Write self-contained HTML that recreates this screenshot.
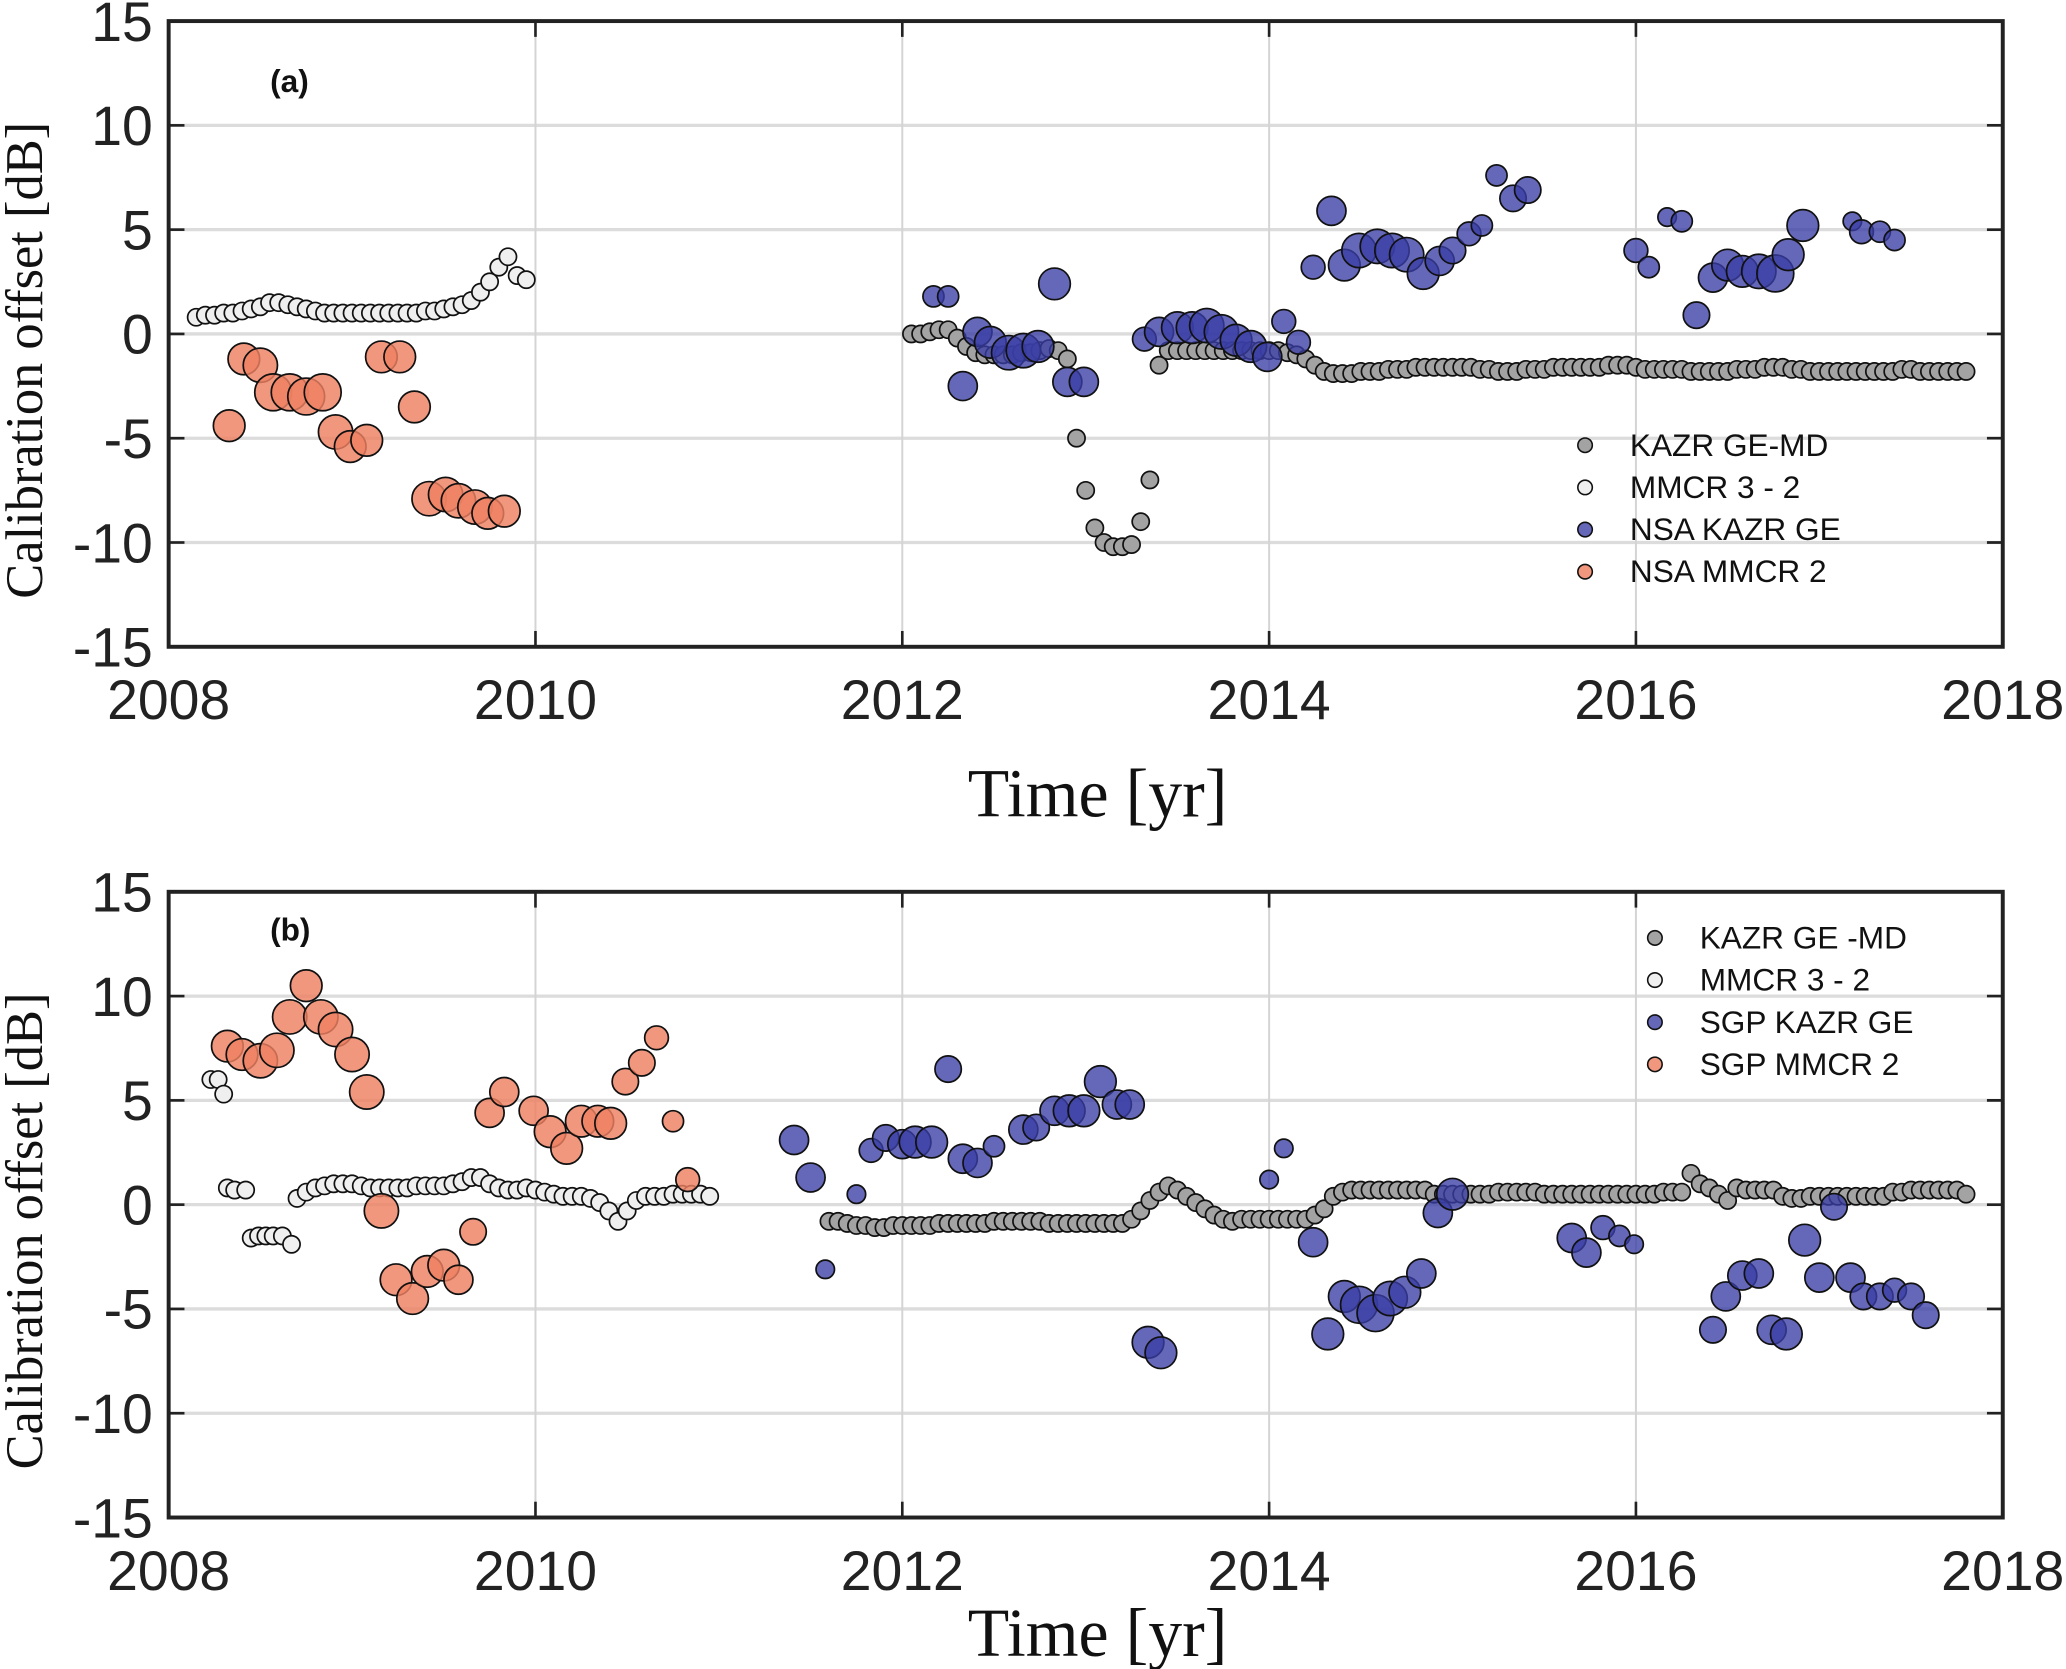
<!DOCTYPE html>
<html><head><meta charset="utf-8"><style>
html,body{margin:0;padding:0;background:#fff;}
svg{display:block;}
</style></head><body>
<svg id="fig" xmlns="http://www.w3.org/2000/svg" width="2066" height="1669" viewBox="0 0 1568 1267" preserveAspectRatio="none"></svg>
<script>
// ---------- Panel (a) data ----------
const aWhiteStart = 2008.15, aWhiteStep = 0.05;
const aWhiteVals = [0.8,0.9,0.9,1.0,1.0,1.1,1.2,1.3,1.5,1.5,1.4,1.3,1.2,1.1,1.0,1.0,1.0,1.0,1.0,1.0,1.0,1.0,1.0,1.0,1.0,1.1,1.1,1.2,1.3,1.4,1.6,2.0,2.5,3.2,3.7,2.8,2.6];
const aGrayStart = 2012.05, aGrayStep = 0.05;
const aGrayVals = [0,0,0.1,0.2,0.2,-0.2,-0.6,-0.9,-1.0,-1.0,-1.0,-1.0,-0.9,-0.9,-0.8,-0.7,-0.8,-1.2,-5.0,-7.5,-9.3,-10.0,-10.2,-10.2,-10.1,-9.0,-7.0,-1.5,
-0.8,-0.8,-0.8,-0.8,-0.8,-0.8,-0.8,-0.8,-0.8,-0.8,-0.8,-0.8,-0.8,-0.9,-1.0,-1.2,-1.5,-1.8,-1.9,-1.9,-1.9,-1.8,-1.8,-1.8,-1.7,-1.7,-1.7,-1.6,-1.6,-1.6,-1.6,-1.6,-1.6,-1.6,-1.7,-1.7,-1.8,-1.8,-1.8,-1.7,-1.7,-1.7,-1.6,-1.6,-1.6,-1.6,-1.6,-1.6,-1.5,-1.5,-1.5,-1.6,-1.7,-1.7,-1.7,-1.7,-1.7,-1.8,-1.8,-1.8,-1.8,-1.8,-1.7,-1.7,-1.7,-1.6,-1.6,-1.6,-1.7,-1.7,-1.8,-1.8,-1.8,-1.8,-1.8,-1.8,-1.8,-1.8,-1.8,-1.8,-1.7,-1.7,-1.8,-1.8,-1.8,-1.8,-1.8,-1.8];
const aSalYears = [2008.33,2008.41,2008.5,2008.57,2008.66,2008.75,2008.84,2008.91,2008.99,2009.08,2009.16,2009.26,2009.34,2009.42,2009.51,2009.58,2009.67,2009.74,2009.83];
const aSalVals  = [-4.4,-1.2,-1.5,-2.8,-2.8,-3.0,-2.8,-4.7,-5.4,-5.1,-1.1,-1.1,-3.5,-7.9,-7.7,-8.0,-8.3,-8.6,-8.5];
const aSalSize  = [12,12,13,14,14,14,14,13,12,12,12,12,12,13,13,13,13,12,12];
const aBlueYears = [2012.17,2012.25,2012.33,2012.41,2012.48,2012.58,2012.66,2012.74,2012.83,2012.9,2012.99,2013.32,2013.4,2013.5,2013.58,2013.66,2013.74,2013.82,2013.9,2013.99,2014.08,2014.16,2014.24,2014.34,2014.41,2014.49,2014.59,2014.67,2014.75,2014.84,2014.93,2015.0,2015.09,2015.16,2015.24,2015.33,2015.41,2016.0,2016.07,2016.17,2016.25,2016.33,2016.42,2016.5,2016.58,2016.67,2016.76,2016.83,2016.91,2017.18,2017.23,2017.33,2017.41];
const aBlueVals  = [1.8,1.8,-2.5,0.1,-0.4,-0.9,-0.8,-0.6,2.4,-2.3,-2.3,-0.25,0.1,0.3,0.3,0.4,0.1,-0.3,-0.6,-1.1,0.6,-0.4,3.2,5.9,3.3,4.0,4.2,4.0,3.8,2.9,3.5,4.0,4.8,5.2,7.6,6.5,6.9,4.0,3.2,5.6,5.4,0.9,2.7,3.3,3.0,3.0,2.9,3.8,5.2,5.4,4.9,4.9,4.5];
const aBlueSize  = [8,8,11,11,12,13,13,12,12,11,11,9,11,12,12,13,13,12,12,11,9,9,9,11,12,13,13,13,13,12,11,10,9,8,8,10,10,9,8,7,8,10,11,12,12,13,14,12,12,7,9,8,8];

// ---------- Panel (b) data ----------
const bWhiteYears = [2008.23,2008.27,2008.3,2008.32,2008.36,2008.42,2008.45,2008.49,2008.53,2008.57,2008.62,2008.67];
const bWhiteVals  = [6.0,6.0,5.3,0.8,0.7,0.7,-1.6,-1.5,-1.5,-1.5,-1.5,-1.9];
const bWhiteStart = 2008.7, bWhiteStep = 0.05;
const bWhiteSeg = [0.3,0.6,0.8,0.9,1.0,1.0,1.0,0.9,0.8,0.8,0.8,0.8,0.8,0.9,0.9,0.9,0.9,1.0,1.1,1.3,1.3,1.0,0.8,0.7,0.7,0.8,0.7,0.6,0.5,0.4,0.4,0.4,0.3,0.1,-0.3,-0.8,-0.3,0.2,0.4,0.4,0.4,0.5,0.5,0.5,0.5,0.4];
const bGrayStart = 2011.6, bGrayStep = 0.05;
const bGrayVals = [-0.8,-0.8,-0.9,-1.0,-1.0,-1.1,-1.1,-1.0,-1.0,-1.0,-1.0,-1.0,-0.9,-0.9,-0.9,-0.9,-0.9,-0.9,-0.8,-0.8,-0.8,-0.8,-0.8,-0.8,-0.9,-0.9,-0.9,-0.9,-0.9,-0.9,-0.9,-0.9,-0.9,-0.7,-0.3,0.2,0.6,0.9,0.7,0.4,0.1,-0.2,-0.5,-0.7,-0.8,-0.7,-0.7,-0.7,-0.7,-0.7,-0.7,-0.7,-0.7,-0.5,-0.2,0.4,0.6,0.7,0.7,0.7,0.7,0.7,0.7,0.7,0.7,0.7,0.5,0.5,0.5,0.5,0.5,0.5,0.5,0.6,0.6,0.6,0.6,0.6,0.5,0.5,0.5,0.5,0.5,0.5,0.5,0.5,0.5,0.5,0.5,0.5,0.5,0.6,0.6,0.6,1.5,1.0,0.8,0.5,0.2,0.8,0.7,0.7,0.7,0.7,0.4,0.3,0.3,0.4,0.4,0.4,0.4,0.4,0.4,0.4,0.4,0.4,0.6,0.6,0.7,0.7,0.7,0.7,0.7,0.7,0.5];
const bSalYears = [2008.32,2008.4,2008.5,2008.59,2008.66,2008.75,2008.83,2008.91,2009.0,2009.08,2009.16,2009.24,2009.33,2009.41,2009.5,2009.58,2009.66,2009.75,2009.83,2009.99,2010.08,2010.17,2010.25,2010.34,2010.41,2010.49,2010.58,2010.66,2010.75,2010.83];
const bSalVals  = [7.6,7.2,6.9,7.4,9.0,10.5,9.0,8.4,7.2,5.4,-0.3,-3.6,-4.5,-3.2,-2.9,-3.6,-1.3,4.4,5.4,4.5,3.5,2.7,4.0,4.0,3.9,5.9,6.8,8.0,4.0,1.2];
const bSalSize  = [12,12,13,13,13,12,13,13,13,13,13,12,12,12,12,11,10,11,11,11,12,12,12,12,12,10,10,9,8,9];
const bBlueYears = [2011.41,2011.5,2011.58,2011.75,2011.83,2011.91,2012.0,2012.07,2012.16,2012.25,2012.33,2012.41,2012.5,2012.66,2012.73,2012.83,2012.91,2012.99,2013.08,2013.17,2013.24,2013.34,2013.41,2014.0,2014.08,2014.24,2014.32,2014.41,2014.49,2014.58,2014.66,2014.74,2014.83,2014.92,2015.0,2015.65,2015.73,2015.82,2015.91,2015.99,2016.42,2016.49,2016.58,2016.67,2016.74,2016.82,2016.92,2017.0,2017.08,2017.17,2017.24,2017.33,2017.41,2017.5,2017.58];
const bBlueVals  = [3.1,1.3,-3.1,0.5,2.6,3.2,2.9,3.0,3.0,6.5,2.2,2.0,2.8,3.6,3.7,4.5,4.5,4.5,5.9,4.8,4.8,-6.6,-7.1,1.2,2.7,-1.8,-6.2,-4.4,-4.8,-5.2,-4.5,-4.2,-3.3,-0.4,0.5,-1.6,-2.3,-1.1,-1.5,-1.9,-6.0,-4.4,-3.4,-3.3,-6.0,-6.2,-1.7,-3.5,-0.1,-3.5,-4.4,-4.4,-4.1,-4.4,-5.3];
const bBlueSize  = [11,11,7,7,9,10,11,12,12,10,11,11,8,11,10,11,12,12,12,11,11,12,12,7,7,11,12,12,14,14,13,12,11,11,12,11,11,9,8,7,10,11,11,11,11,12,12,11,10,11,10,10,9,10,10];

const xTicks = [2008,2010,2012,2014,2016,2018];
const yTicks = [15,10,5,0,-5,-10,-15];

// ---------- drawing ----------
const NS = 'http://www.w3.org/2000/svg';
const svg = document.getElementById('fig');
const X0 = 128, X1 = 1520;
function mk(tag, attrs, parent){ const e = document.createElementNS(NS, tag); for (const k in attrs) e.setAttribute(k, attrs[k]); (parent||svg).appendChild(e); return e; }
const COL = {gray:'#a3a3a3', white:'#efefef', blue:'rgba(58,62,165,0.78)', sal:'rgba(238,128,98,0.82)'};

function panel(top, bottom, tag){
  const g = mk('g', {});
  
  
  const xs = yr => X0 + (yr - 2008) / 10 * (X1 - X0);
  const ys = v => top + (15 - v) / 30 * (bottom - top);
  for (const t of yTicks) { if (t===15||t===-15) continue;
    const l = mk('line', {x1:X0, x2:X1, y1:ys(t), y2:ys(t), stroke:'#dcdcdc', 'stroke-width':2.5}, g);
      }
  for (const t of xTicks) { if (t===2008||t===2018) continue;
    const l = mk('line', {x1:xs(t), x2:xs(t), y1:top, y2:bottom, stroke:'#d4d4d4', 'stroke-width':1.5}, g);
      }
  for (const t of xTicks) {
    mk('line', {x1:xs(t), x2:xs(t), y1:bottom, y2:bottom-12, stroke:'#222', 'stroke-width':2}, g);
    mk('line', {x1:xs(t), x2:xs(t), y1:top, y2:top+12, stroke:'#222', 'stroke-width':2}, g);
    const tx = mk('text', {x:xs(t), y:bottom+55, 'text-anchor':'middle', 'font-family':'Liberation Sans, sans-serif', 'font-size':42, fill:'#222'}, g);
    tx.textContent = t;
     
  }
  for (const t of yTicks) {
    mk('line', {x1:X0, x2:X0+12, y1:ys(t), y2:ys(t), stroke:'#222', 'stroke-width':2}, g);
    mk('line', {x1:X1, x2:X1-12, y1:ys(t), y2:ys(t), stroke:'#222', 'stroke-width':2}, g);
    const tx = mk('text', {x:116, y:ys(t)+15, 'text-anchor':'end', 'font-family':'Liberation Sans, sans-serif', 'font-size':42, fill:'#222'}, g);
    tx.textContent = t;
     
  }
  return {g, xs, ys};
}

function dots(p, years, vals, sizes, fill, name){
  for (let i = 0; i < vals.length; i++) {
    const c = mk('circle', {cx:p.xs(years[i]), cy:p.ys(vals[i]), r:sizes ? sizes[i] : 6.5, fill:fill, stroke:'#111', 'stroke-width':1.3}, p.g);
    
    
  }
}
function dense(p, start, step, vals, fill, name){
  const yrs = vals.map((_, i) => start + i * step);
  dots(p, yrs, vals, null, fill, name);
}
function frame(p, top, bottom){
  const r = mk('rect', {x:X0, y:top, width:X1-X0, height:bottom-top, fill:'none', stroke:'#222', 'stroke-width':3}, p.g);
   
}
function legend(p, lx, ly, names, fills){
  const lg = mk('g', {}, p.g);
   
  names.forEach((n, i) => {
    const c = mk('circle', {cx:lx, cy:ly + i*32, r:5.5, fill:fills[i], stroke:'#111', 'stroke-width':1.2}, lg);
     
    const t = mk('text', {x:lx+34, y:ly + i*32 + 8, 'font-family':'Liberation Sans, sans-serif', 'font-size':24, fill:'#111'}, lg);
    t.textContent = n;
     
  });
}
function titles(p, top, bottom, tag, labelY, xTitleY){
  const lab = mk('text', {x:205, y:labelY, 'font-family':'Liberation Sans, sans-serif', 'font-size':24, 'font-weight':'bold', fill:'#111'}, p.g);
  lab.textContent = '(' + tag + ')';
   
  const cy = (top + bottom) / 2 + 20;
  const yt = mk('text', {x:0, y:0, transform:'translate(32,' + cy + ') rotate(-90)', 'text-anchor':'middle', 'font-family':'Liberation Serif, serif', 'font-size':40, fill:'#111', textLength:362, lengthAdjust:'spacingAndGlyphs'}, p.g);
  yt.textContent = 'Calibration offset [dB]';
   
  const xt = mk('text', {x:833, y:xTitleY, 'text-anchor':'middle', 'font-family':'Liberation Serif, serif', 'font-size':52, fill:'#111', textLength:197, lengthAdjust:'spacingAndGlyphs'}, p.g);
  xt.textContent = 'Time [yr]';
   
}

// Panel a
const pa = panel(16, 491, 'a');
dense(pa, aWhiteStart, aWhiteStep, aWhiteVals, COL.white, 'mmcr-3-2-point');
dense(pa, aGrayStart, aGrayStep, aGrayVals, COL.gray, 'kazr-ge-md-point');
dots(pa, aSalYears, aSalVals, aSalSize, COL.sal, 'nsa-mmcr-2-point');
dots(pa, aBlueYears, aBlueVals, aBlueSize, COL.blue, 'nsa-kazr-ge-point');
frame(pa, 16, 491);
legend(pa, 1203, 338, ['KAZR GE-MD','MMCR 3 - 2','NSA KAZR GE','NSA MMCR 2'], [COL.gray, COL.white, COL.blue, COL.sal]);
titles(pa, 16, 491, 'a', 70, 620);

// Panel b
const pb = panel(677, 1152, 'b');
dots(pb, bWhiteYears, bWhiteVals, null, COL.white, 'mmcr-3-2-point');
dense(pb, bWhiteStart, bWhiteStep, bWhiteSeg, COL.white, 'mmcr-3-2-point');
dense(pb, bGrayStart, bGrayStep, bGrayVals, COL.gray, 'kazr-ge-md-point');
dots(pb, bSalYears, bSalVals, bSalSize, COL.sal, 'sgp-mmcr-2-point');
dots(pb, bBlueYears, bBlueVals, bBlueSize, COL.blue, 'sgp-kazr-ge-point');
frame(pb, 677, 1152);
legend(pb, 1256, 712, ['KAZR GE -MD','MMCR 3 - 2','SGP KAZR GE','SGP MMCR 2'], [COL.gray, COL.white, COL.blue, COL.sal]);
titles(pb, 677, 1152, 'b', 714, 1257);
</script>
</body></html>
